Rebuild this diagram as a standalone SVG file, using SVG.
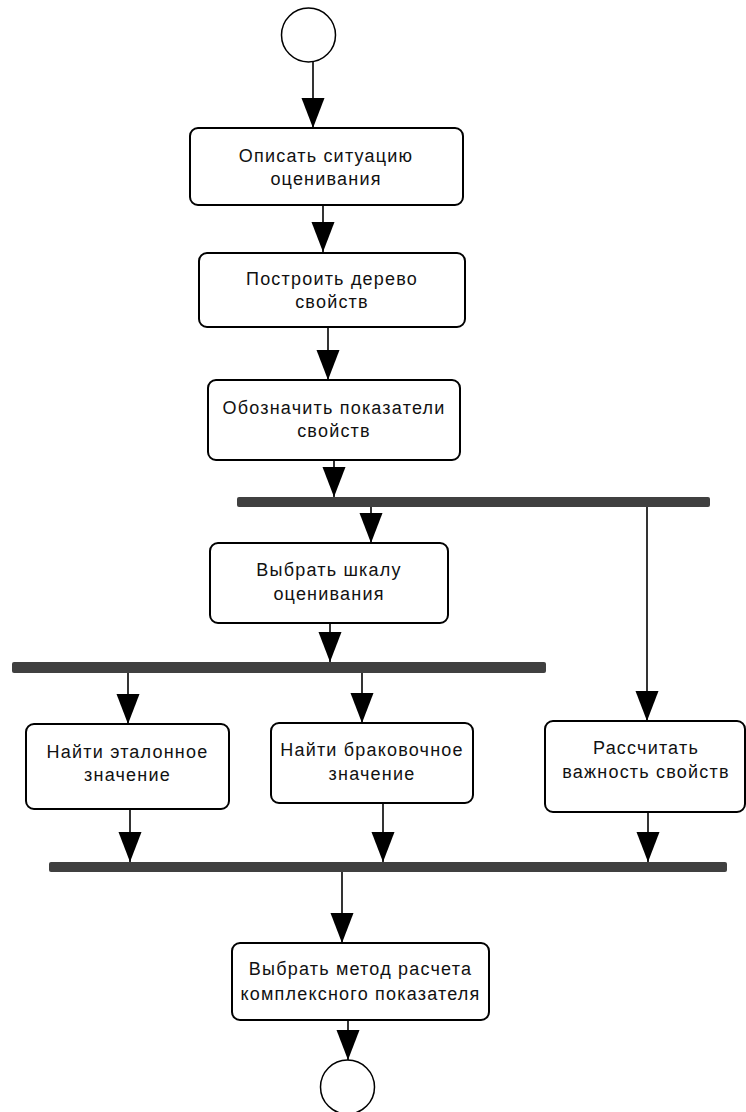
<svg xmlns="http://www.w3.org/2000/svg" width="746" height="1112" viewBox="0 0 746 1112">
<style>
.box{fill:#fff;stroke:#000;stroke-width:2}
.bar{fill:#404040}
.circ{fill:#fff;stroke:#000;stroke-width:1.5}
.lbl{font-family:"Liberation Sans",Arial,sans-serif;font-size:18px;letter-spacing:1.2px;fill:#111;text-anchor:middle}
.con line{stroke:#000;stroke-width:1.6;marker-end:url(#ah)}
</style>
<defs>
<marker id="ah" markerUnits="userSpaceOnUse" markerWidth="31" markerHeight="24" refX="30" refY="11.5" orient="auto" viewBox="0 0 31 24">
<path d="M0,0 L30,11.5 L0,23 z" fill="#000"/>
</marker>
</defs>
<rect width="746" height="1112" fill="#fff"/>
<g id="connectors" class="con">
<line x1="313" y1="61" x2="313" y2="128"/>
<line x1="323" y1="205" x2="323" y2="252"/>
<line x1="328" y1="327" x2="328" y2="380"/>
<line x1="334" y1="460" x2="334" y2="497"/>
<line x1="371" y1="507" x2="371" y2="543"/>
<line x1="647" y1="507" x2="647" y2="721"/>
<line x1="330" y1="623" x2="330" y2="662"/>
<line x1="128" y1="673" x2="128" y2="724"/>
<line x1="362" y1="673" x2="362" y2="723"/>
<line x1="130" y1="809" x2="130" y2="862"/>
<line x1="383" y1="803" x2="383" y2="862"/>
<line x1="648" y1="812" x2="648" y2="862"/>
<line x1="342" y1="872" x2="342" y2="943"/>
<line x1="348" y1="1020" x2="348" y2="1060"/>
</g>
<g id="start"><circle class="circ" cx="308.5" cy="35" r="27"/></g>
<g id="n1"><rect class="box" x="190" y="128" width="273" height="77" rx="8"/>
<text class="lbl" x="326" y="162">Описать ситуацию</text><text class="lbl" x="326" y="185">оценивания</text></g>
<g id="n2"><rect class="box" x="199" y="253" width="266" height="74" rx="8"/>
<text class="lbl" x="332" y="285">Построить дерево</text><text class="lbl" x="332" y="308">свойств</text></g>
<g id="n3"><rect class="box" x="208" y="380" width="252" height="80" rx="8"/>
<text class="lbl" x="334" y="414">Обозначить показатели</text><text class="lbl" x="334" y="437">свойств</text></g>
<g id="bar1"><rect class="bar" x="237" y="497" width="473" height="10" rx="2"/></g>
<g id="n4"><rect class="box" x="210" y="543" width="238" height="80" rx="8"/>
<text class="lbl" x="329" y="576">Выбрать шкалу</text><text class="lbl" x="329" y="600">оценивания</text></g>
<g id="bar2"><rect class="bar" x="12" y="662" width="534" height="11" rx="2"/></g>
<g id="n5"><rect class="box" x="26" y="724" width="203" height="85" rx="8"/>
<text class="lbl" x="127.5" y="758">Найти эталонное</text><text class="lbl" x="127.5" y="781">значение</text></g>
<g id="n6"><rect class="box" x="271" y="723" width="202" height="80" rx="8"/>
<text class="lbl" x="372" y="756">Найти браковочное</text><text class="lbl" x="372" y="780">значение</text></g>
<g id="n7"><rect class="box" x="545" y="721" width="200" height="91" rx="8"/>
<text class="lbl" x="646" y="754">Рассчитать</text><text class="lbl" x="646" y="778">важность свойств</text></g>
<g id="bar3"><rect class="bar" x="49" y="862" width="678" height="10" rx="2"/></g>
<g id="n8"><rect class="box" x="232" y="943" width="257" height="77" rx="8"/>
<text class="lbl" x="360.5" y="975">Выбрать метод расчета</text><text class="lbl" x="360.5" y="1000">комплексного показателя</text></g>
<g id="end"><circle class="circ" cx="347.5" cy="1087" r="27"/></g>
</svg>
